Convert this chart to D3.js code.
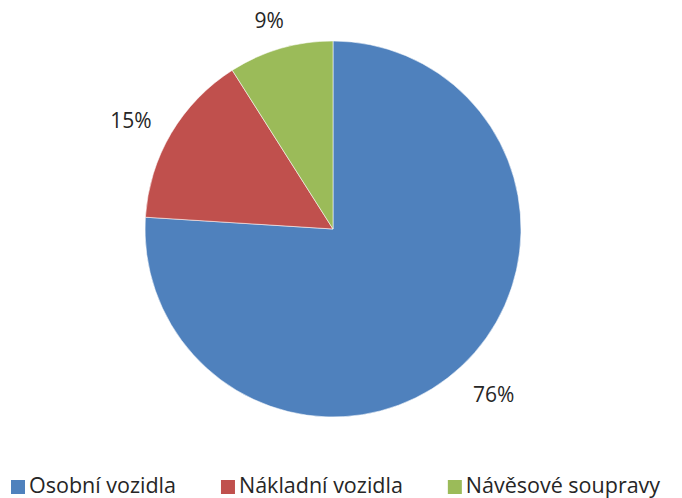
<!DOCTYPE html>
<html>
<head>
<meta charset="utf-8">
<script src="https://cdn.jsdelivr.net/npm/d3@7"></script>
<style>
  html, body { margin: 0; padding: 0; background: #fff; overflow: hidden; }
  svg { display: block; }
  text { font-family: "Open Sans", "Noto Sans", sans-serif; fill: #262626; }
</style>
</head>
<body>
<svg id="chart" width="682" height="498"></svg>
<script>
// Vehicle categories and their shares (%)
const categories = ["Osobní vozidla", "Nákladní vozidla", "Návěsové soupravy"];
const shares = [76, 15, 9];
const colors = ["#4F81BD", "#C0504D", "#9BBB59"];

const width = 682, height = 498;
const cx = 333, cy = 229, radius = 188;
const labelGap = 26;          // distance from the rim to the label box
const labelFont = 21;

const svg = d3.select("#chart");

const data = categories.map((c, i) => ({ name: c, value: shares[i], color: colors[i] }));

const pie = d3.pie().value(d => d.value).sort(null);
const arcs = pie(data);

const arc = d3.arc().innerRadius(0).outerRadius(radius);

const g = svg.append("g").attr("transform", `translate(${cx},${cy})`);

g.selectAll("path.slice")
  .data(arcs)
  .join("path")
  .attr("class", "slice")
  .attr("d", arc)
  .attr("fill", d => d.data.color)
  .attr("stroke", "rgba(255,255,255,0.55)")
  .attr("stroke-width", 1);

// Percentage labels: the label box sits just outside the rim along the mid-angle
const labels = g.selectAll("text.pct")
  .data(arcs)
  .join("text")
  .attr("class", "pct")
  .attr("text-anchor", "middle")
  .attr("dominant-baseline", "central")
  .attr("font-size", labelFont)
  .text(d => d.data.value + "%");

labels.each(function(d) {
  const bb = this.getBBox();
  const hw = bb.width / 2, hh = 7.5;
  const a = (d.startAngle + d.endAngle) / 2;
  const r0 = radius + labelGap;
  const x = (r0 + hw) * Math.sin(a);
  const y = -(r0 + hh) * Math.cos(a) + 4;
  d3.select(this).attr("x", x).attr("y", y);
});

// Legend along the bottom
const legend = svg.append("g").attr("transform", "translate(11,480)");
const sq = 14, gapText = 4, gapItem = 45, legendFont = 21.5;
let xPos = 0;
data.forEach(d => {
  const item = legend.append("g").attr("transform", `translate(${xPos},0)`);
  item.append("rect")
    .attr("width", sq).attr("height", sq)
    .attr("fill", d.color);
  const t = item.append("text")
    .attr("x", sq + gapText)
    .attr("y", 13)
    .attr("font-size", legendFont)
    .text(d.name);
  xPos += sq + gapText + t.node().getComputedTextLength() + gapItem;
});
</script>
</body>
</html>
